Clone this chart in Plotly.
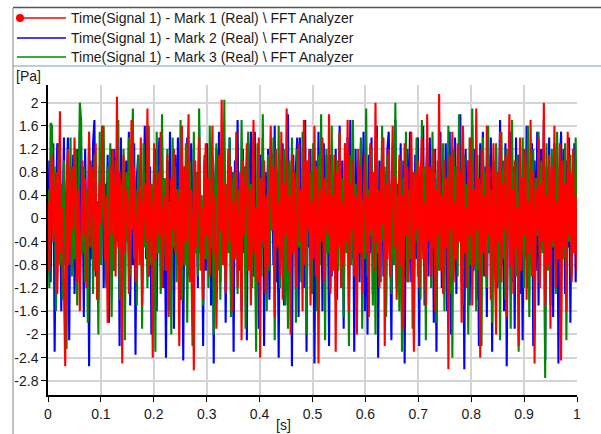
import numpy as np
import plotly.graph_objects as go

# ---- data ----
mark1_red = [
    0.3,-0.9,0.6,1.1,-0.4,0.2,0.8,-1.3,-0.1,1.85,-0.6,0.2,-1.0,-2.55,0.4,1.2,-0.8,0.1,0.9,-0.2,
    1.4,0.3,-1.1,0.5,-1.6,-0.3,1.0,-0.3,0.7,-1.2,0.2,1.5,-0.5,0.9,0.2,-0.9,1.3,-1.4,-0.2,0.6,
    -0.1,1.6,0.4,-0.7,0.4,-1.8,-0.5,0.9,-0.3,1.2,0.3,-1.0,2.1,-0.5,0.8,-0.2,-2.5,1.1,-0.6,0.5,
    0.3,-1.3,0.1,1.7,-0.2,0.9,-1.1,0.0,0.5,-0.8,1.4,-1.5,0.2,0.6,-0.4,1.9,-1.0,0.6,0.2,-2.4,
    1.3,-0.7,0.4,0.8,-0.3,1.5,-1.2,0.1,0.4,-0.9,1.1,-1.7,-0.4,0.7,-0.2,1.2,-0.6,0.5,0.3,-2.2,
    0.2,1.6,-0.8,0.9,-0.4,1.0,1.8,-1.1,0.5,-0.5,-2.62,1.0,-0.5,0.3,1.4,-0.9,0.2,-1.4,0.6,1.3,
    -0.3,0.7,-1.0,0.1,1.6,-0.6,0.4,-1.9,-0.4,1.1,-0.2,2.05,-0.8,0.6,-1.3,0.3,1.2,-0.4,0.9,-1.6,
    0.3,-0.7,1.5,-1.2,0.2,0.8,-2.1,1.0,-0.3,0.6,1.3,-0.9,0.5,-1.5,0.1,1.7,-0.6,0.2,-1.1,1.4,
    -2.4,0.7,-0.4,1.0,-1.3,0.4,-0.8,0.3,1.6,-0.2,0.9,-1.7,1.2,-0.5,0.3,-1.0,1.5,-1.4,0.6,-0.3,
    1.9,-0.9,0.4,-2.0,1.1,-0.6,0.8,-1.2,0.0,1.3,-0.4,0.5,-1.6,1.7,-0.8,1.0,-0.2,1.2,-1.5,0.3,
    -0.7,1.6,-1.0,0.9,-2.5,0.5,-0.4,1.4,-1.1,0.7,0.1,-0.3,1.8,-1.3,0.4,-0.9,1.1,-2.3,0.8,-0.5,
    1.5,-1.2,0.3,-0.8,1.3,-0.4,1.7,-1.6,0.6,-0.2,1.0,-1.0,0.4,-2.0,1.2,-0.6,0.9,-1.3,0.2,1.1,
    -0.6,0.4,-1.7,1.3,-0.2,0.8,-0.9,2.0,-0.4,0.5,-1.2,0.9,-0.1,1.4,-2.2,0.6,-0.7,1.2,-1.0,0.3,
    1.6,-0.5,0.7,-1.4,0.2,1.1,-0.8,0.4,-1.9,1.3,-0.3,0.9,-1.1,0.5,1.5,-0.6,-2.3,0.8,-0.2,1.0,
    -1.2,0.6,1.4,-0.7,0.3,-1.5,1.8,-0.4,0.9,-1.0,0.2,1.2,-1.6,0.5,-0.3,2.15,-0.9,0.4,-1.3,1.0,
    -0.5,0.7,-2.6,1.1,-0.2,1.5,-1.1,0.3,-0.7,1.3,-0.4,0.8,-1.8,1.6,-0.6,0.2,-1.2,1.0,-0.3,1.4,
    -1.5,0.5,-0.8,1.9,-0.2,0.7,-2.4,1.2,-0.6,0.4,-1.0,1.6,-0.3,0.9,-1.4,0.3,1.3,-0.7,-2.0,0.8,
    -0.4,1.5,-1.1,0.6,-0.2,1.1,-1.7,0.4,1.8,-0.8,0.5,-1.3,1.0,-0.5,0.2,-2.2,1.4,-0.9,0.7,-0.3,
    1.2,-1.4,0.3,-0.6,1.7,-1.0,0.8,-2.5,0.5,-0.2,1.4,-1.2,0.6,-0.4,2.0,-1.5,0.4,-0.8,1.1,-1.9,
    0.9,-0.4,1.6,-1.2,0.3,-0.7,1.3,-2.45,1.0,-0.5,0.6,-1.6,1.5,-0.3,0.8,-1.1,1.2,-0.6,0.4,-0.9,
]
mark2_blue = [
    -0.4,1.0,-1.1,0.6,1.3,-2.3,0.2,1.3,-0.2,0.9,-1.6,0.4,1.4,-0.8,0.6,1.4,-2.1,0.7,-0.5,1.1,
    -1.3,0.2,1.2,-0.9,1.5,-0.6,0.8,-1.7,1.2,-0.3,0.5,-2.55,1.0,-0.7,1.3,1.7,-1.0,0.3,-1.4,0.9,
    -0.2,1.6,-1.2,0.6,-0.5,1.1,-1.8,0.4,1.2,-0.9,1.2,0.8,-0.4,0.8,-2.2,1.4,-0.6,0.3,-1.1,1.0,
    -0.3,1.5,-1.5,0.6,-0.8,1.3,-2.35,0.7,1.1,-0.5,1.1,-1.3,0.4,1.6,-0.7,1.6,-1.0,0.9,-2.0,0.5,
    -0.3,1.2,-1.6,0.8,1.4,-0.6,1.4,-1.2,0.3,-2.4,1.0,-0.8,1.5,-0.4,0.7,-1.9,1.1,-0.2,1.4,0.6,
    -1.4,1.3,-2.45,0.9,-0.7,1.4,-1.0,0.4,1.3,-1.7,1.2,-0.5,0.8,-1.2,1.6,-0.6,0.3,-2.2,1.0,-0.9,
    1.3,-0.3,0.7,-1.5,1.1,-2.5,0.6,1.2,-0.4,1.5,-1.1,0.9,-0.7,1.2,-1.8,0.5,-0.5,1.4,-1.3,0.8,
    -2.3,1.0,-0.2,1.7,-0.9,0.4,-1.6,1.2,-0.6,0.9,-2.1,1.3,-0.4,1.5,0.6,-1.0,1.5,-0.7,0.3,-1.9,
    1.1,-0.5,1.4,-2.2,0.8,-0.3,1.2,-1.4,0.6,1.1,-0.8,1.6,-1.1,0.4,-2.4,1.0,-0.6,1.3,-1.5,0.7,
    -0.2,1.8,-1.0,0.5,-2.55,1.1,-0.4,0.9,1.4,-1.7,1.4,-0.7,0.3,-1.2,1.7,-2.3,0.8,-0.5,1.2,-1.3,
    0.6,-2.5,1.0,-0.8,1.5,-0.3,0.9,-1.6,1.3,-0.6,1.1,0.4,-2.2,1.1,-1.0,0.7,-0.4,1.2,-1.4,0.5,
    1.6,-0.8,1.0,-1.9,0.6,-0.3,1.4,-1.2,1.7,-0.7,0.9,-2.3,1.2,-0.5,0.8,-1.1,1.3,-0.4,1.5,-1.6,
    0.7,-2.0,1.1,-0.6,1.4,-1.3,0.5,-0.9,1.6,-2.4,1.0,-0.3,1.3,-1.0,0.8,-1.5,1.2,1.5,-0.6,-2.1,
    0.9,-0.4,1.7,-1.2,0.6,-0.8,1.3,-1.7,1.0,-2.5,0.4,1.2,-0.5,1.5,-1.1,0.8,-1.4,1.1,-0.7,1.4,
    -2.2,0.9,-0.3,1.6,-1.5,0.6,1.3,-1.0,1.4,-0.6,0.9,-1.8,1.2,-2.3,0.7,-0.4,1.5,-1.2,1.0,-0.8,
    1.3,-1.6,0.5,1.5,-2.0,1.1,-0.5,1.4,-1.3,0.8,-0.3,1.8,-1.1,0.6,-2.6,1.2,-0.7,1.0,-1.5,0.4,
    1.6,-0.9,1.2,-1.4,0.7,-2.2,1.3,-0.4,1.5,-1.0,0.9,-1.7,1.1,-0.6,1.4,-2.3,0.8,-0.5,1.2,-1.2,
    0.5,1.7,-0.8,1.0,-1.6,1.3,-2.55,0.7,-0.3,1.5,-1.1,0.9,-1.9,1.4,-0.6,1.1,-1.3,0.4,-2.1,1.2,
    -0.7,1.6,-1.2,0.8,-0.4,1.3,-2.2,1.0,-0.9,1.5,-1.5,0.6,1.2,-0.5,1.7,-2.45,0.9,-0.8,1.4,-1.0,
    0.7,-1.7,1.3,-0.4,1.1,-2.5,0.8,1.5,-0.6,1.2,-1.3,1.0,-0.5,1.4,-1.8,0.6,-0.3,1.3,-1.1,0.8,
]
mark3_green = [
    0.5,-1.2,1.65,1.6,-0.3,0.9,-1.6,0.2,1.3,-0.8,0.6,-1.4,1.0,-0.5,-2.25,0.8,-0.2,1.4,-1.0,0.4,
    -0.7,1.2,-1.5,0.3,2.0,1.7,-0.6,0.9,-1.1,0.5,-1.8,1.4,-0.3,0.7,-1.3,1.1,-0.4,0.2,-2.0,1.5,
    -0.8,0.6,1.6,-0.5,-1.2,0.9,-0.3,1.3,-1.7,0.4,-0.9,1.0,-0.2,1.7,-1.4,0.6,-0.6,1.2,-2.1,0.8,
    -0.4,1.4,-1.0,0.3,1.9,-0.7,0.5,-1.5,1.1,-0.2,0.8,-1.9,1.3,-0.5,0.2,-1.2,1.6,-0.8,0.6,-0.3,
    1.0,-2.3,1.5,-0.6,0.4,-1.3,1.8,-0.9,0.7,-0.4,1.2,-1.6,0.3,-2.0,1.4,-0.5,0.9,-1.1,0.5,-0.2,
    1.7,-1.4,0.6,-0.8,1.3,-1.8,0.2,1.0,-0.3,-2.2,1.5,-0.6,0.8,-1.0,1.9,-0.4,0.4,-1.5,1.1,-0.7,
    0.3,-1.2,1.6,-0.5,0.9,-2.0,0.5,1.3,-0.9,0.2,-1.4,1.0,-0.3,2.05,-1.1,0.6,-0.6,1.4,-1.7,0.3,
    0.8,-0.4,1.2,-1.3,0.5,-0.8,1.7,-0.2,0.9,-1.9,0.4,1.5,-0.7,0.6,-1.2,1.0,-0.4,-2.3,1.3,-0.6,
    0.7,-1.0,1.8,-0.5,0.3,-1.6,1.1,-0.9,0.6,-0.2,1.4,-2.1,0.8,-0.4,1.6,-1.2,0.2,-0.7,1.2,-1.5,
    0.5,-1.9,1.0,-0.6,1.4,-0.3,0.7,-1.8,1.2,-0.5,0.4,-1.1,1.5,-0.8,0.3,-2.0,1.0,-0.2,0.8,-1.3,
    1.3,-0.4,0.6,-1.6,1.1,-0.8,1.8,-0.3,0.5,-2.1,1.2,-0.6,0.9,-1.2,1.6,-0.5,0.2,-1.4,1.0,-0.9,
    1.5,-0.2,0.7,-1.7,1.3,-0.6,0.4,-2.2,1.1,-0.8,1.7,-0.4,0.6,-1.3,1.0,-0.5,1.4,-1.9,0.3,-0.7,
    1.9,-1.0,0.5,-0.3,1.2,-1.5,0.8,-2.0,1.4,-0.6,0.3,-1.1,1.6,-0.4,0.9,-1.7,1.1,-0.2,0.6,-1.3,
    1.3,-0.8,2.0,-0.5,0.4,-1.6,1.0,-2.3,0.7,-0.3,1.5,-1.1,0.5,-0.7,1.2,-1.9,0.8,-0.4,1.4,-1.0,
    0.3,-1.4,1.7,-0.6,0.9,-2.1,1.1,-0.2,0.6,-1.2,1.5,-0.5,0.8,-1.8,1.0,-0.9,0.4,-0.3,1.3,-1.6,
    0.7,-0.4,1.6,-1.3,0.5,-2.4,1.2,-0.7,0.9,-1.0,1.8,-0.3,0.4,-1.5,1.1,-0.6,0.6,-2.0,1.4,-0.8,
    1.9,-0.5,0.3,-1.6,1.1,-0.9,0.6,-2.2,1.4,-0.2,0.8,-1.2,1.6,-0.6,0.5,-1.8,1.0,-0.4,1.3,-1.1,
    0.6,-2.1,1.5,-0.7,0.9,-1.4,1.2,-0.3,0.4,-1.9,1.7,-0.5,0.8,-1.0,1.1,-2.3,0.5,-0.6,1.4,-1.2,
    0.9,-0.4,1.6,-1.7,0.3,-0.8,1.2,-2.0,0.7,-0.3,1.5,-1.1,1.0,-0.6,0.4,-2.75,1.3,-0.9,0.6,-1.5,
    1.2,-0.5,0.8,-1.3,1.5,-0.2,0.6,-1.8,1.0,-0.7,1.3,-2.1,0.5,-0.4,1.1,-1.0,0.9,-0.6,1.4,-0.8,
]
time_s = np.linspace(0.0, 1.0, len(mark1_red))

series_names = [
    "Time(Signal 1) - Mark 1 (Real) \\ FFT Analyzer",
    "Time(Signal 1) - Mark 2 (Real) \\ FFT Analyzer",
    "Time(Signal 1) - Mark 3 (Real) \\ FFT Analyzer",
]
colors = ["#ff0000", "#0000ff", "#008800"]

y_ticks = [2, 1.6, 1.2, 0.8, 0.4, 0, -0.4, -0.8, -1.2, -1.6, -2, -2.4, -2.8]
y_tick_text = ["2", "1.6", "1.2", "0.8", "0.4", "0", "-0.4", "-0.8", "-1.2", "-1.6", "-2", "-2.4", "-2.8"]
x_ticks = [0, 0.1, 0.2, 0.3, 0.4, 0.5, 0.6, 0.7, 0.8, 0.9, 1]
x_tick_text = ["0", "0.1", "0.2", "0.3", "0.4", "0.5", "0.6", "0.7", "0.8", "0.9", "1"]

# ---- layout geometry ----
W, H = 601, 434
L, R, T, B = 48, 577, 85, 395
FONT = "Liberation Sans"
TXT = "#1a1a1a"

def px(xp):
    return (xp - L) / (R - L)

def py(yp):
    return (B - yp) / (B - T)

fig = go.Figure()
# draw order: blue, green, red on top
for ys, c, n in [(mark2_blue, colors[1], series_names[1]),
                 (mark3_green, colors[2], series_names[2]),
                 (mark1_red, colors[0], series_names[0])]:
    fig.add_trace(go.Scatter(x=time_s, y=ys, mode="lines", name=n,
                             line=dict(color=c, width=2.1), showlegend=False))

shapes = []
annotations = []
# frame lines (legend box and left border)
shapes.append(dict(type="line", xref="paper", yref="paper", x0=px(13), x1=px(W), y0=py(7.5), y1=py(7.5),
                   line=dict(color="#555555", width=1.5)))
shapes.append(dict(type="line", xref="paper", yref="paper", x0=px(13), x1=px(W), y0=py(66), y1=py(66),
                   line=dict(color="#7a9cc6", width=1.2)))
shapes.append(dict(type="line", xref="paper", yref="paper", x0=px(13), x1=px(13), y0=py(8), y1=py(H),
                   line=dict(color="#999999", width=1.2)))

legend_y = [18, 38, 57]
for i, (n, c) in enumerate(zip(series_names, colors)):
    yy = py(legend_y[i])
    shapes.append(dict(type="line", xref="paper", yref="paper", x0=px(17), x1=px(66), y0=yy, y1=yy,
                       line=dict(color=c, width=1.3)))
    annotations.append(dict(text=n, xref="paper", yref="paper", x=px(69), y=yy, xanchor="left",
                            yanchor="middle", showarrow=False, font=dict(family=FONT, size=14, color=TXT)))
# red dot on first legend item
shapes.append(dict(type="circle", xref="paper", yref="paper", x0=px(16), x1=px(24),
                   y0=py(22), y1=py(14), fillcolor="#ff0000", line=dict(color="#ff0000", width=0)))

annotations.append(dict(text="[Pa]", xref="paper", yref="paper", x=px(14), y=py(76), xanchor="left",
                        yanchor="middle", showarrow=False, font=dict(family=FONT, size=14, color=TXT)))
annotations.append(dict(text="[s]", xref="paper", yref="paper", x=px(283), y=py(425), xanchor="center",
                        yanchor="middle", showarrow=False, font=dict(family=FONT, size=14, color=TXT)))

fig.update_layout(
    width=W, height=H,
    margin=dict(l=L, r=W - R, t=T, b=H - B, pad=0),
    paper_bgcolor="white", plot_bgcolor="white",
    shapes=shapes, annotations=annotations,
    font=dict(family=FONT, size=14, color=TXT),
    showlegend=False,
)
axis_common = dict(showgrid=True, gridcolor="#d4d4d4", gridwidth=2, showline=True, linecolor="black",
                   linewidth=1.5, ticks="outside", ticklen=5, tickcolor="black", zeroline=False,
                   tickfont=dict(family=FONT, size=14, color=TXT))
fig.update_xaxes(range=[0, 1], tickvals=x_ticks, ticktext=x_tick_text, **axis_common)
fig.update_yaxes(range=[-3.045, 2.305], tickvals=y_ticks, ticktext=y_tick_text, **axis_common)

fig.write_html("out.html", config={"displayModeBar": False},
               post_script="document.body.style.margin='0';document.body.style.padding='0';"
                           "document.body.style.overflow='hidden';")
